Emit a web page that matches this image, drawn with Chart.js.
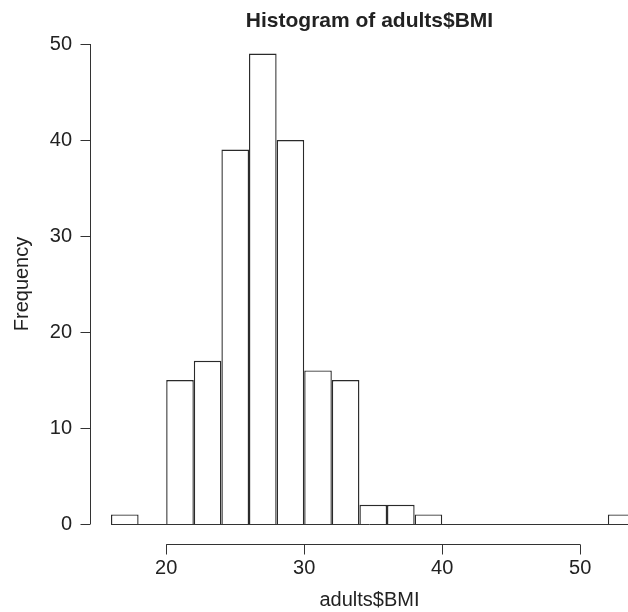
<!DOCTYPE html>
<html>
<head>
<meta charset="utf-8">
<script src="https://cdn.jsdelivr.net/npm/chart.js@4/dist/chart.umd.min.js"></script>
<style>
  html, body { margin: 0; padding: 0; background: #fff; }
  #wrap { width: 628px; height: 612px; }
</style>
</head>
<body>
<div id="wrap"><canvas id="hist"></canvas></div>
<script>
// histogram of adults$BMI, bins of width 2
const binEdges = [16, 18, 20, 22, 24, 26, 28, 30, 32, 34, 36, 38, 40, 42, 44, 46, 48, 50, 52, 54];
const counts = [1, 0, 15, 17, 39, 49, 40, 16, 15, 2, 2, 1, 0, 0, 0, 0, 0, 0, 1];
const xTicks = [20, 30, 40, 50];
const yTicks = [0, 10, 20, 30, 40, 50];

const ink = '#222';
Chart.defaults.font.family = "'Liberation Sans', Arial, sans-serif";
Chart.defaults.font.size = 20;
Chart.defaults.color = ink;

const points = counts.map((c, i) => ({ x: (binEdges[i] + binEdges[i + 1]) / 2, y: c }));

// R-style detached axes, drawn from the chart's own scales
const rAxes = {
  id: 'rAxes',
  afterDatasetsDraw(chart) {
    const { ctx, chartArea, scales: { x, y } } = chart;
    ctx.save();
    ctx.strokeStyle = '#333';
    ctx.lineWidth = 1;

    // baseline under the empty bins
    const y0 = Math.round(y.getPixelForValue(0)) + 0.5;
    ctx.beginPath();
    ctx.moveTo(x.getPixelForValue(binEdges[0]), y0);
    ctx.lineTo(chartArea.right, y0);
    ctx.stroke();

    // y axis
    const ax = Math.round(chartArea.left - 21) + 0.5;
    ctx.beginPath();
    ctx.moveTo(ax, y.getPixelForValue(yTicks[0]));
    ctx.lineTo(ax, y.getPixelForValue(yTicks[yTicks.length - 1]));
    yTicks.forEach(v => {
      const py = Math.round(y.getPixelForValue(v)) + 0.5;
      ctx.moveTo(ax, py);
      ctx.lineTo(ax - 10, py);
    });
    ctx.stroke();

    // x axis
    const ay = Math.round(chartArea.bottom + 19.6) + 0.5;
    ctx.beginPath();
    ctx.moveTo(x.getPixelForValue(xTicks[0]), ay);
    ctx.lineTo(x.getPixelForValue(xTicks[xTicks.length - 1]), ay);
    xTicks.forEach(v => {
      const px = Math.round(x.getPixelForValue(v)) + 0.5;
      ctx.moveTo(px, ay);
      ctx.lineTo(px, ay + 10);
    });
    ctx.stroke();
    ctx.restore();
  }
};

new Chart(document.getElementById('hist'), {
  type: 'bar',
  data: {
    datasets: [{
      data: points,
      backgroundColor: '#fff',
      borderColor: '#2a2a2a',
      borderWidth: 1.4,
      barPercentage: 1,
      categoryPercentage: 1,
      inflateAmount: 0
    }]
  },
  options: {
    responsive: true,
    maintainAspectRatio: false,
    animation: false,
    layout: { padding: 0 },
    plugins: {
      legend: { display: false },
      tooltip: { enabled: false },
      title: {
        display: true,
        text: 'Histogram of adults$BMI',
        fullSize: false,
        color: ink,
        font: { size: 21, weight: 'bold' },
        padding: { top: 9, bottom: 9.8 }
      }
    },
    scales: {
      x: {
        type: 'linear',
        min: 16,
        max: 53.46,
        offset: false,
        // label gap comes from tickLength so it does not pad the chart area
        grid: { display: false, drawTicks: true, tickLength: 32, offset: false },
        border: { display: false },
        afterBuildTicks: s => { s.ticks = xTicks.map(v => ({ value: v })); },
        afterFit: s => { s.height = 88; },
        ticks: { padding: 0, color: ink },
        title: { display: true, text: 'adults$BMI', color: ink, padding: { top: 0, bottom: 0 } }
      },
      y: {
        min: 0,
        max: 50,
        grid: { display: false, drawTicks: true, tickLength: 39 },
        border: { display: false },
        afterBuildTicks: s => { s.ticks = yTicks.map(v => ({ value: v })); },
        afterFit: s => { s.width = 111; },
        ticks: { padding: 0, color: ink },
        title: { display: true, text: 'Frequency', color: ink, padding: { top: 10, bottom: 0 } }
      }
    }
  },
  plugins: [rAxes]
});
</script>
</body>
</html>
